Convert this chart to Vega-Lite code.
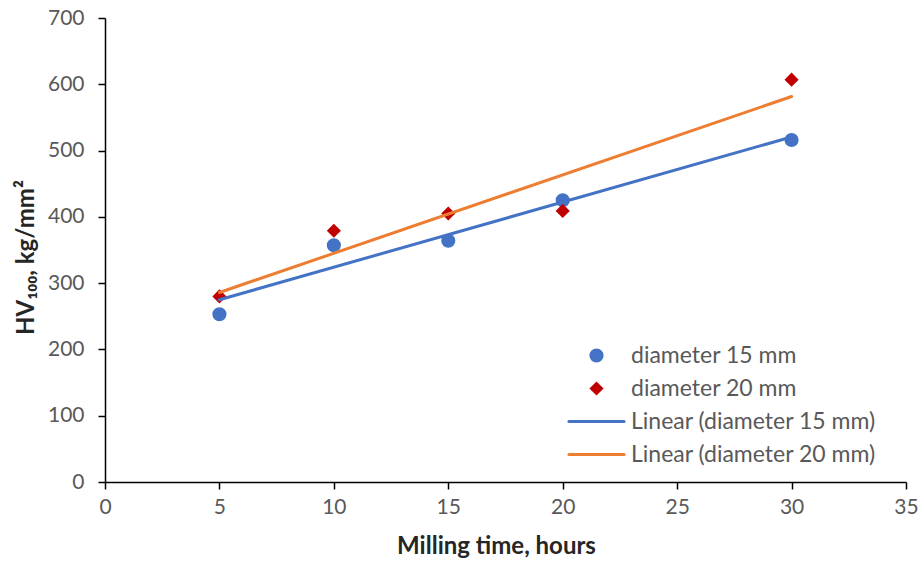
{
  "$schema": "https://vega.github.io/schema/vega-lite/v6.json",
  "width": 801,
  "height": 464,
  "autosize": {"type": "none"},
  "padding": {"left": 105, "top": 18, "right": 12, "bottom": 79},
  "background": "white",
  "config": {
    "view": {"stroke": null},
    "font": "Lato",
    "axis": {
      "grid": false,
      "domainColor": "#000000",
      "domainWidth": 1.5,
      "tickColor": "#000000",
      "tickWidth": 1.5,
      "tickSize": 7,
      "labelFont": "Lato",
      "labelFontSize": 21,
      "labelColor": "#595959",
      "titleFont": "Lato",
      "titleFontSize": 24,
      "titleFontWeight": "bold",
      "titleColor": "#262626"
    },
    "legend": {
      "title": null,
      "orient": "none",
      "legendX": 480,
      "legendY": 326,
      "labelFont": "Lato",
      "labelFontSize": 23,
      "labelColor": "#595959",
      "labelLimit": 0,
      "symbolSize": 200,
      "labelOffset": 23,
      "rowPadding": 9,
      "symbolOpacity": 1
    }
  },
  "data": {
    "values": [
      {"t": 5, "hv": 253, "series": "diameter 15 mm", "fit": "Linear (diameter 15 mm)"},
      {"t": 10, "hv": 357, "series": "diameter 15 mm", "fit": "Linear (diameter 15 mm)"},
      {"t": 15, "hv": 364, "series": "diameter 15 mm", "fit": "Linear (diameter 15 mm)"},
      {"t": 20, "hv": 425, "series": "diameter 15 mm", "fit": "Linear (diameter 15 mm)"},
      {"t": 30, "hv": 516, "series": "diameter 15 mm", "fit": "Linear (diameter 15 mm)"},
      {"t": 5, "hv": 280, "series": "diameter 20 mm", "fit": "Linear (diameter 20 mm)"},
      {"t": 10, "hv": 379, "series": "diameter 20 mm", "fit": "Linear (diameter 20 mm)"},
      {"t": 15, "hv": 405, "series": "diameter 20 mm", "fit": "Linear (diameter 20 mm)"},
      {"t": 20, "hv": 409, "series": "diameter 20 mm", "fit": "Linear (diameter 20 mm)"},
      {"t": 30, "hv": 607, "series": "diameter 20 mm", "fit": "Linear (diameter 20 mm)"}
    ]
  },
  "layer": [
    {
      "mark": {"type": "point", "filled": true, "opacity": 1, "size": 200},
      "encoding": {
        "x": {
          "field": "t", "type": "quantitative",
          "scale": {"domain": [0, 35], "nice": false},
          "axis": {"values": [0, 5, 10, 15, 20, 25, 30, 35], "labelPadding": 7, "titlePadding": 17, "labelFlush": false, "title": "Milling time, hours", "titleX": 391}
        },
        "y": {
          "field": "hv", "type": "quantitative",
          "scale": {"domain": [0, 700], "nice": false},
          "axis": {"values": [0, 100, 200, 300, 400, 500, 600, 700], "labelPadding": 14, "titlePadding": 9, "labelFlush": false, "title": "HV₁₀₀, kg/mm²", "titleY": 239}
        },
        "color": {
          "field": "series", "type": "nominal",
          "scale": {
            "domain": ["diameter 15 mm", "diameter 20 mm", "Linear (diameter 15 mm)", "Linear (diameter 20 mm)"],
            "range": ["#4472C4", "#C00000", "#4472C4", "#ED7D31"]
          },
          "legend": {
            "encode": {
              "symbols": {
                "update": {
                  "fill": {"scale": "color", "field": "value"},
                  "stroke": {"scale": "color", "field": "value"},
                  "strokeWidth": {"signal": "datum.index >= 2 ? 3 : 0"},
                  "strokeCap": {"value": "round"}
                }
              }
            }
          }
        },
        "shape": {
          "field": "series", "type": "nominal",
          "scale": {
            "domain": ["diameter 15 mm", "diameter 20 mm", "Linear (diameter 15 mm)", "Linear (diameter 20 mm)"],
            "range": ["circle", "diamond", "M-3.9,0H3.9", "M-3.9,0H3.9"]
          }
        }
      }
    },
    {
      "transform": [{"regression": "hv", "on": "t", "groupby": ["fit"]}],
      "mark": {"type": "line", "strokeWidth": 3, "strokeCap": "round"},
      "encoding": {
        "x": {"field": "t", "type": "quantitative"},
        "y": {"field": "hv", "type": "quantitative"},
        "color": {
          "field": "fit", "type": "nominal",
          "scale": {
            "domain": ["diameter 15 mm", "diameter 20 mm", "Linear (diameter 15 mm)", "Linear (diameter 20 mm)"],
            "range": ["#4472C4", "#C00000", "#4472C4", "#ED7D31"]
          }
        }
      }
    }
  ]
}
